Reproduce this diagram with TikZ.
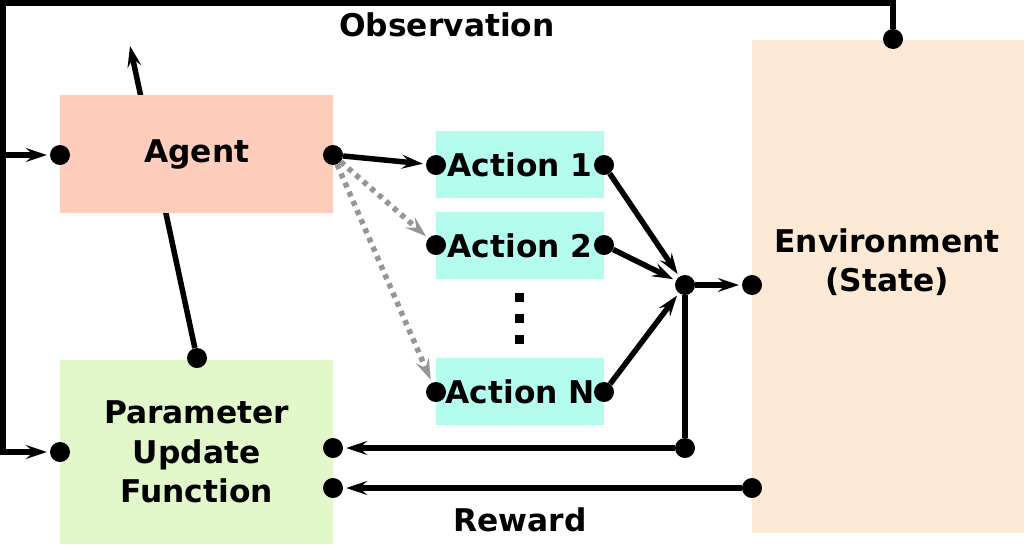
\documentclass[tikz,border=0pt]{standalone}
\usepackage{fontspec}
\setmainfont{DejaVu Sans}
\usetikzlibrary{arrows.meta,backgrounds}
\definecolor{agentc}{RGB}{255,205,188}
\definecolor{actc}{RGB}{180,252,238}
\definecolor{envc}{RGB}{253,234,214}
\definecolor{paramc}{RGB}{226,248,203}
\definecolor{dotgray}{RGB}{150,150,150}
\begin{document}
\begin{tikzpicture}[x=1pt,y=-1pt,
  box/.style={draw=none,inner sep=0,anchor=north west,align=center,font=\bfseries\fontsize{31.3}{39.5}\selectfont},
  lbl/.style={inner sep=0,align=center,font=\bfseries\fontsize{31.3}{39.5}\selectfont},
  dot/.style={circle,fill=black,inner sep=0,minimum size=20},
  line/.style={line width=5.5,draw=black},
  arr/.style={line width=5.5,draw=black,shorten >=3,-{Stealth[length=21,width=14,inset=8]}},
  darr/.style={line width=5.5,draw=dotgray,dash pattern=on 5 off 5,shorten >=3,-{Stealth[length=21,width=14,inset=8]}}]
\useasboundingbox (0,0) rectangle (1024,544);
% boxes
\node[box,fill=agentc,minimum width=273,minimum height=118] (agent) at (60,95) {Agent};
\node[box,fill=paramc,minimum width=273,minimum height=184] (param) at (60,360) {Parameter\\Update\\Function};
\node[box,fill=actc,minimum width=168,minimum height=67] (act1) at (436,131) {Action 1};
\node[box,fill=actc,minimum width=168,minimum height=67] (act2) at (436,212) {Action 2};
\node[box,fill=actc,minimum width=168,minimum height=67] (actN) at (436,358) {Action N};
\node[box,fill=envc,minimum width=272,minimum height=493] (env) at (752,40) {};
\node[lbl] (envtext) at (887,262) {Environment\\(State)};
\node[lbl] (obs) at (447,25) {Observation};
\node[lbl] (rew) at (520,520) {Reward};
% vertical dots
\fill (515,293) rectangle ++(9,9);
\fill (515,314) rectangle ++(9,9);
\fill (515,335) rectangle ++(9,9);
% dots
\node[dot] (agentL) at (60,155) {};
\node[dot] (agentR) at (333,155) {};
\node[dot] (paramT) at (197,358) {};
\node[dot] (paramL) at (60,452) {};
\node[dot] (paramR1) at (333,448) {};
\node[dot] (paramR2) at (333,488) {};
\node[dot] (a1L) at (436,165) {};
\node[dot] (a1R) at (604,165) {};
\node[dot] (a2L) at (436,245) {};
\node[dot] (a2R) at (604,245) {};
\node[dot] (aNL) at (436,392) {};
\node[dot] (aNR) at (604,392) {};
\node[dot] (junc) at (685,285) {};
\node[dot] (junc2) at (685,448) {};
\node[dot] (envL) at (752,285) {};
\node[dot] (envB) at (752,488) {};
\node[dot] (envT) at (893,39) {};
\coordinate (tl) at (3,3);
\coordinate (agentout) at (130,46);
% connectors
\draw[arr] (agentR) -- (a1L);
\draw[darr] (agentR) -- (a2L);
\draw[darr] (agentR) -- (aNL);
\draw[arr] (a1R) -- (junc);
\draw[arr] (a2R) -- (junc);
\draw[arr] (aNR) -- (junc);
\draw[arr] (junc) -- (envL);
\draw[line] (junc) -- (junc2);
\draw[arr] (junc2) -- (paramR1);
\draw[arr] (envB) -- (paramR2);
\draw[arr] (envT) |- (tl) |- (agentL);
\draw[arr] (tl) |- (paramL);
\begin{scope}[on background layer]
\draw[arr,shorten >=0] (paramT) -- (agentout);
\end{scope}
\end{tikzpicture}
\end{document}
